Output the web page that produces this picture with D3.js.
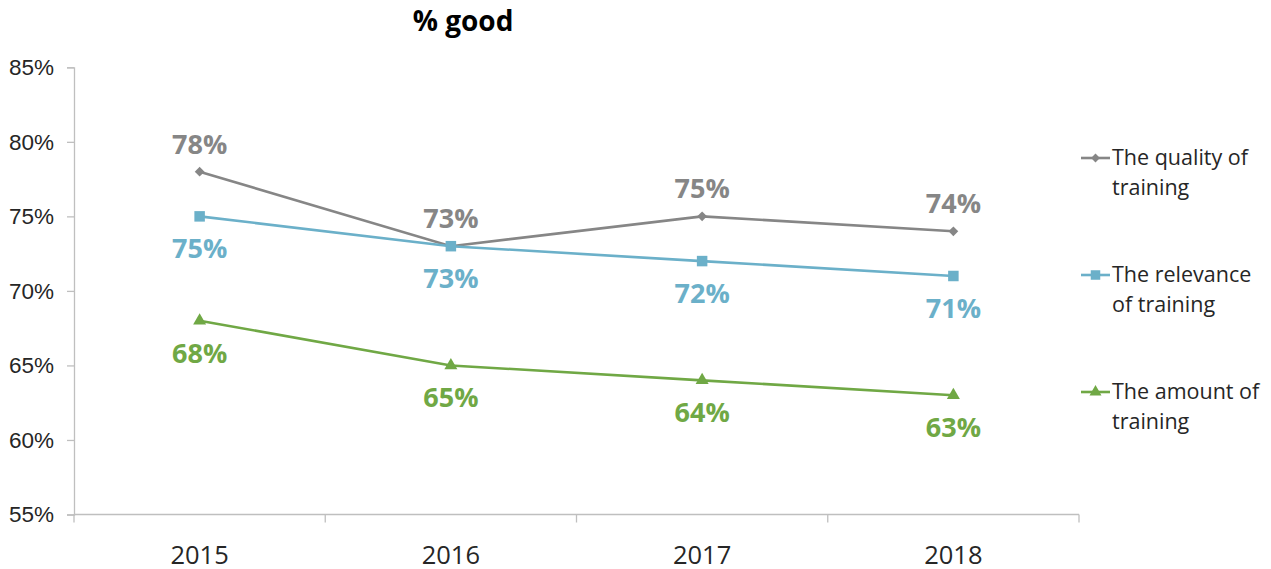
<!DOCTYPE html>
<html>
<head>
<meta charset="utf-8">
<script src="https://cdn.jsdelivr.net/npm/d3@7"></script>
<style>
  html, body { margin: 0; padding: 0; background: #fff; }
  svg { display: block; }
</style>
</head>
<body>
<svg id="chart" width="1271" height="569"></svg>
<script>
// Survey results: share of respondents rating each aspect of training as good
const years = ["2015", "2016", "2017", "2018"];
const quality = [78, 73, 75, 74];
const relevance = [75, 73, 72, 71];
const amount = [68, 65, 64, 63];
const yTicks = [55, 60, 65, 70, 75, 80, 85];

const series = [
  { name: ["The quality of", "training"], values: quality, color: "#868686", marker: "diamond", labelPos: "above", legendY: 158 },
  { name: ["The relevance", "of training"], values: relevance, color: "#6bb0c9", marker: "square", labelPos: "below", legendY: 275 },
  { name: ["The amount of", "training"], values: amount, color: "#70a845", marker: "triangle", labelPos: "below", legendY: 392 }
];

const svg = d3.select("#chart");
const plotLeft = 74, plotRight = 1079, plotTop = 67.3, plotBottom = 514.5;

const x = d3.scaleBand().domain(years).range([plotLeft, plotRight]);
const y = d3.scaleLinear().domain([55, 85]).range([plotBottom, plotTop]);

const axisColor = "#bfbfbf";
const uiFont = "'Open Sans', 'Noto Sans', sans-serif";

// Title
svg.append("text")
  .attr("x", 463).attr("y", 31)
  .attr("text-anchor", "middle")
  .attr("font-family", uiFont)
  .attr("font-weight", "bold")
  .attr("font-size", 28)
  .attr("fill", "#000")
  .text("% good");

// Y axis
const yAxis = svg.append("g")
  .attr("transform", `translate(${plotLeft},0)`)
  .call(d3.axisLeft(y).tickValues(yTicks).tickSize(7).tickPadding(13).tickFormat(d => d + "%"));
yAxis.select(".domain").attr("stroke", axisColor).attr("stroke-width", 1.3);
yAxis.selectAll(".tick line").attr("stroke", axisColor).attr("stroke-width", 1.3);
yAxis.selectAll(".tick text")
  .attr("font-family", "'Liberation Sans', Arial, sans-serif")
  .attr("font-size", 22.5)
  .attr("fill", "#262626");

// X axis with boundary ticks between categories
const xAxisG = svg.append("g").attr("transform", `translate(0,${plotBottom})`);
xAxisG.append("line")
  .attr("x1", plotLeft).attr("x2", plotRight)
  .attr("stroke", axisColor).attr("stroke-width", 1.3);
const bounds = years.map(d => x(d)).concat([x(years[years.length - 1]) + x.bandwidth()]);
xAxisG.selectAll("line.tick").data(bounds).join("line")
  .attr("class", "tick")
  .attr("x1", d => d).attr("x2", d => d)
  .attr("y1", 0).attr("y2", 8)
  .attr("stroke", axisColor).attr("stroke-width", 1.3);
xAxisG.selectAll("text").data(years).join("text")
  .attr("x", d => x(d) + x.bandwidth() / 2)
  .attr("y", 49)
  .attr("text-anchor", "middle")
  .attr("font-family", uiFont)
  .attr("font-size", 25.5)
  .attr("fill", "#262626")
  .text(d => d);

const cx = d => x(d) + x.bandwidth() / 2;

// Markers: s is the marker's overall width in pixels
function drawMarker(g, type, px, py, color, s) {
  if (type === "diamond") {
    g.append("path")
      .attr("d", d3.symbol(d3.symbolDiamond2, s * s / 2)())
      .attr("transform", `translate(${px},${py})`)
      .attr("fill", color);
  } else if (type === "square") {
    g.append("rect")
      .attr("x", px - s / 2).attr("y", py - s / 2)
      .attr("width", s).attr("height", s)
      .attr("fill", color);
  } else {
    g.append("path")
      .attr("d", d3.symbol(d3.symbolTriangle, s * s * Math.sqrt(3) / 4)())
      .attr("transform", `translate(${px},${py})`)
      .attr("fill", color);
  }
}

const markerSize = { diamond: 11, square: 10.5, triangle: 13 };
const line = d3.line().x((d, i) => cx(years[i])).y(d => y(d));

series.forEach(s => {
  const g = svg.append("g");
  g.append("path")
    .datum(s.values)
    .attr("d", line)
    .attr("fill", "none")
    .attr("stroke", s.color)
    .attr("stroke-width", 2.6);
  s.values.forEach((v, i) => {
    drawMarker(g, s.marker, cx(years[i]), y(v), s.color, markerSize[s.marker]);
    g.append("text")
      .attr("x", cx(years[i]))
      .attr("y", y(v) + (s.labelPos === "above" ? -18 : 42))
      .attr("text-anchor", "middle")
      .attr("font-family", uiFont)
      .attr("font-weight", "bold")
      .attr("font-size", 27)
      .attr("fill", s.color)
      .text(v + "%");
  });

  // Legend entry
  const lg = svg.append("g");
  lg.append("line")
    .attr("x1", 1081).attr("x2", 1110)
    .attr("y1", s.legendY).attr("y2", s.legendY)
    .attr("stroke", s.color).attr("stroke-width", 2.6);
  drawMarker(lg, s.marker, 1095.5, s.legendY, s.color, markerSize[s.marker] - 1);
  s.name.forEach((t, k) => {
    lg.append("text")
      .attr("x", 1112)
      .attr("y", s.legendY + 7 + k * 30)
      .attr("font-family", uiFont)
      .attr("font-size", 21.5)
      .attr("fill", "#262626")
      .text(t);
  });
});
</script>
</body>
</html>
